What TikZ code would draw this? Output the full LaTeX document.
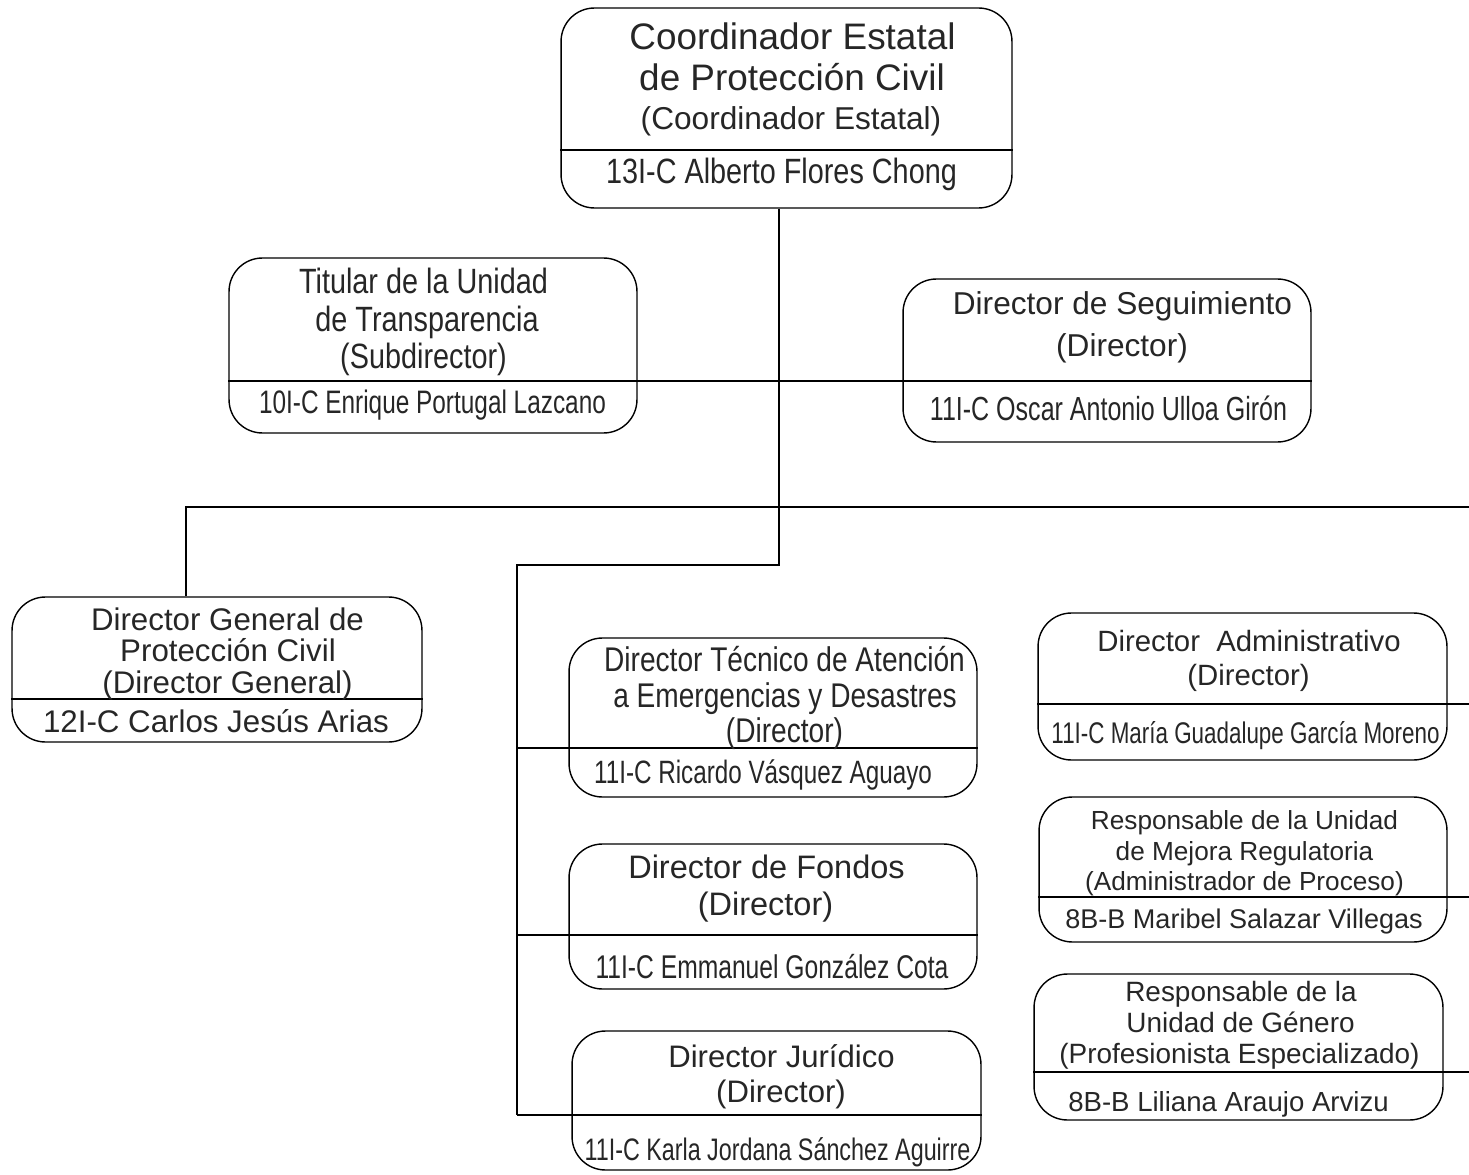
\documentclass[tikz,border=0pt]{standalone}
\usepackage{fontspec}
\setmainfont{Liberation Sans}
\newfontfamily\narrowfamily[FakeStretch=0.82]{Liberation Sans}
\newfontfamily\tightfamily[FakeStretch=0.75]{Liberation Sans}
\usetikzlibrary{positioning}

\newcommand{\plainsz}[1]{\fontsize{#1}{#1}\selectfont}
\newcommand{\narrowsz}[1]{\narrowfamily\fontsize{#1}{#1}\selectfont}
\newcommand{\tightsz}[1]{\tightfamily\fontsize{#1}{#1}\selectfont}

\tikzset{
  card/.style={draw, rounded corners=19pt, inner sep=0pt},
  lbl/.style={inner sep=0pt, anchor=mid, yshift=-3.5pt, text=black!85},
}

\begin{document}
\begin{tikzpicture}[x=0.02cm, y=-0.02cm, line width=0.8pt]
  \useasboundingbox (0,0) rectangle (1469,1175);

  % boxes
  \node[card, minimum width=9.02cm, minimum height=4cm] (coord) at (786.5,108) {};
  \node[card, minimum width=8.16cm, minimum height=3.5cm] (tit) at (433,345.5) {};
  \node[card, minimum width=8.16cm, minimum height=3.26cm] (seg) at (1107,360.5) {};
  \node[card, minimum width=8.2cm, minimum height=2.9cm] (dg) at (217,669.5) {};
  \node[card, minimum width=8.16cm, minimum height=3.18cm] (tec) at (773,717.5) {};
  \node[card, minimum width=8.16cm, minimum height=2.9cm] (fon) at (773,916.5) {};
  \node[card, minimum width=8.18cm, minimum height=2.78cm] (jur) at (776.5,1100.5) {};
  \node[card, minimum width=8.18cm, minimum height=2.94cm] (adm) at (1242.5,686.5) {};
  \node[card, minimum width=8.16cm, minimum height=2.9cm] (mej) at (1243,869.5) {};
  \node[card, minimum width=8.18cm, minimum height=2.92cm] (gen) at (1238.5,1047) {};

  % dividers
  \draw (coord.west |- 0,150) -- (coord.east |- 0,150);
  \draw (tit.west |- 0,381) -- (seg.east |- 0,381);
  \draw (dg.west |- 0,699) -- (dg.east |- 0,699);

  % connectors
  \coordinate (elbow) at (779,565);
  \coordinate (spine) at (517,1115);
  \coordinate (rightout) at (1469,507);
  \draw (coord.south -| elbow) -- (elbow) -| (spine);
  \draw (dg.north -| 186,0) |- (rightout);
  \draw (spine |- 0,748) -- (tec.east |- 0,748);
  \draw (spine |- 0,935) -- (fon.east |- 0,935);
  \draw (spine) -- (jur.east |- spine);
  \draw (adm.west |- 0,704) -- (rightout |- 0,704);
  \draw (mej.west |- 0,897) -- (rightout |- 0,897);
  \draw (gen.west |- 0,1072) -- (rightout |- 0,1072);

  % texts
  \node[lbl, font=\plainsz{21}] (coordA) at (792.5,39) {Coordinador Estatal};
  \node[lbl, font=\plainsz{21}] (coordB) at (792,80) {de Protección Civil};
  \node[lbl, font=\plainsz{18}] (coordC) at (791,119) {(Coordinador Estatal)};
  \node[lbl, font=\narrowsz{20}] (coordD) at (781.5,173) {13I-C Alberto Flores Chong};

  \node[lbl, font=\narrowsz{20}] (titA) at (423.5,283) {Titular de la Unidad};
  \node[lbl, font=\narrowsz{20}] (titB) at (427,321) {de Transparencia};
  \node[lbl, font=\narrowsz{20}] (titC) at (423.5,358) {(Subdirector)};
  \node[lbl, font=\tightsz{18.5}] (titD) at (432.5,403) {10I-C Enrique Portugal Lazcano};

  \node[lbl, font=\plainsz{18}] (segA) at (1122.5,304) {Director de Seguimiento};
  \node[lbl, font=\plainsz{18}] (segB) at (1122,346) {(Director)};
  \node[lbl, font=\tightsz{19}] (segC) at (1108.5,410) {11I-C Oscar Antonio Ulloa Girón};

  \node[lbl, font=\plainsz{17.8}] (dgA) at (227.5,620) {Director General de};
  \node[lbl, font=\plainsz{17.8}] (dgB) at (228,651) {Protección Civil};
  \node[lbl, font=\plainsz{17.8}] (dgC) at (227.5,683) {(Director General)};
  \node[lbl, font=\plainsz{17.8}] (dgD) at (216,722) {12I-C Carlos Jesús Arias};

  \node[lbl, font=\narrowsz{19.5}] (tecA) at (784.5,661) {Director Técnico de Atención};
  \node[lbl, font=\narrowsz{19.5}] (tecB) at (785,697) {a Emergencias y Desastres};
  \node[lbl, font=\narrowsz{19.5}] (tecC) at (784.5,732) {(Director)};
  \node[lbl, font=\tightsz{18.4}] (tecD) at (763,773) {11I-C Ricardo Vásquez Aguayo};

  \node[lbl, font=\plainsz{18.5}] (fonA) at (766.5,868) {Director de Fondos};
  \node[lbl, font=\plainsz{18.5}] (fonB) at (765.5,905) {(Director)};
  \node[lbl, font=\tightsz{18.7}] (fonC) at (772,968) {11I-C Emmanuel González Cota};

  \node[lbl, font=\plainsz{17.7}] (jurA) at (781.5,1057) {Director Jurídico};
  \node[lbl, font=\plainsz{17.7}] (jurB) at (781,1092) {(Director)};
  \node[lbl, font=\tightsz{17.7}] (jurC) at (777.5,1150) {11I-C Karla Jordana Sánchez Aguirre};

  \node[lbl, font=\plainsz{16.7}] (admA) at (1249,641) {Director\ \ Administrativo};
  \node[lbl, font=\plainsz{16.7}] (admB) at (1248.5,675) {(Director)};
  \node[lbl, font=\tightsz{17}] (admC) at (1245.5,733) {11I-C María Guadalupe García Moreno};

  \node[lbl, font=\plainsz{14.9}] (mejA) at (1244.5,819) {Responsable de la Unidad};
  \node[lbl, font=\plainsz{14.9}] (mejB) at (1244.5,850) {de Mejora Regulatoria};
  \node[lbl, font=\plainsz{14.9}] (mejC) at (1244.5,880) {(Administrador de Proceso)};
  \node[lbl, font=\plainsz{15.4}] (mejD) at (1244,918) {8B-B Maribel Salazar Villegas};

  \node[lbl, font=\plainsz{15.9}] (genA) at (1241,991) {Responsable de la};
  \node[lbl, font=\plainsz{15.9}] (genB) at (1240.5,1022) {Unidad de Género};
  \node[lbl, font=\plainsz{15.9}] (genC) at (1239.5,1053) {(Profesionista Especializado)};
  \node[lbl, font=\plainsz{15.7}] (genD) at (1228.5,1101) {8B-B Liliana Araujo Arvizu};
\end{tikzpicture}
\end{document}
